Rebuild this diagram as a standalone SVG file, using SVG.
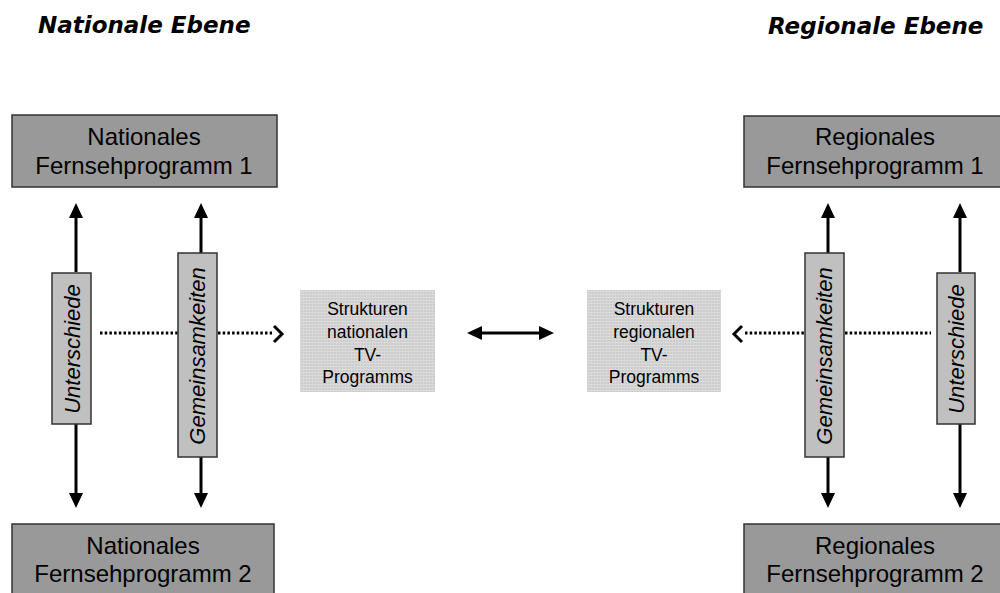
<svg xmlns="http://www.w3.org/2000/svg" width="1000" height="593" viewBox="0 0 1000 593">
<style>
.big{fill:#999999;stroke:#333333;stroke-width:1.5}
.bar{fill:#c0c0c0;stroke:#333333;stroke-width:1.5}
.str{fill:url(#grid);stroke:none}
.t24{font-family:"Liberation Sans",Arial,sans-serif;font-size:24px;fill:#000;text-anchor:middle}
.t17{font-family:"Liberation Sans",Arial,sans-serif;font-size:17.5px;fill:#000;text-anchor:middle}
.rot{font-family:"Liberation Sans",Arial,sans-serif;font-size:22px;font-style:italic;fill:#000;text-anchor:middle}
.title{font-family:"DejaVu Sans",sans-serif;font-size:23px;font-weight:bold;font-style:italic;fill:#000}
.ln{stroke:#000;stroke-width:3;fill:none}
.dot{stroke:#000;stroke-width:3;fill:none;stroke-dasharray:2.5 2.2}
.chev{stroke:#000;stroke-width:3;fill:none;stroke-linejoin:miter}
</style>
<defs>
<pattern id="grid" width="3" height="3" patternUnits="userSpaceOnUse">
<rect width="3" height="3" fill="#cccccc"/>
<rect width="3" height="1" fill="#dddddd"/>
<rect width="1" height="3" fill="#d8d8d8"/>
</pattern>
<marker id="ah" markerUnits="userSpaceOnUse" markerWidth="15" markerHeight="14" refX="0" refY="7" orient="auto-start-reverse" viewBox="0 0 15 14">
<path d="M0,0 L15,7 L0,14 Z" fill="#000"/>
</marker>
</defs>

<text class="title" x="38" y="33">Nationale Ebene</text>
<text class="title" x="768" y="34">Regionale Ebene</text>

<g id="connectors">
<line class="ln" x1="76" y1="272" x2="76" y2="218" marker-end="url(#ah)"/>
<line class="ln" x1="201" y1="253" x2="201" y2="218" marker-end="url(#ah)"/>
<line class="ln" x1="76" y1="424" x2="76" y2="493" marker-end="url(#ah)"/>
<line class="ln" x1="201" y1="457" x2="201" y2="493" marker-end="url(#ah)"/>
<line class="ln" x1="828" y1="253" x2="828" y2="218" marker-end="url(#ah)"/>
<line class="ln" x1="960" y1="272" x2="960" y2="218" marker-end="url(#ah)"/>
<line class="ln" x1="828" y1="457" x2="828" y2="493" marker-end="url(#ah)"/>
<line class="ln" x1="960" y1="424" x2="960" y2="493" marker-end="url(#ah)"/>
<line class="dot" x1="100" y1="333" x2="178" y2="333"/>
<line class="dot" x1="218" y1="333" x2="272" y2="333"/>
<polyline class="chev" points="274,326 282,334 274,342"/>
<line class="dot" x1="745" y1="333" x2="805" y2="333"/>
<line class="dot" x1="845" y1="333" x2="931" y2="333"/>
<polyline class="chev" points="742,326 734,334 742,342"/>
<line class="ln" x1="482" y1="333" x2="539" y2="333" marker-start="url(#ah)" marker-end="url(#ah)"/>
</g>

<g id="nat1">
<rect class="big" x="12" y="115" width="265" height="72"/>
<text class="t24" x="144" y="145">Nationales</text>
<text class="t24" x="144" y="174">Fernsehprogramm 1</text>
</g>
<g id="nat2">
<rect class="big" x="12" y="524" width="262" height="80"/>
<text class="t24" x="143" y="554">Nationales</text>
<text class="t24" x="143" y="582">Fernsehprogramm 2</text>
</g>
<g id="reg1">
<rect class="big" x="744" y="116" width="270" height="71"/>
<text class="t24" x="875" y="145">Regionales</text>
<text class="t24" x="875" y="174">Fernsehprogramm 1</text>
</g>
<g id="reg2">
<rect class="big" x="744" y="524" width="270" height="80"/>
<text class="t24" x="875" y="554">Regionales</text>
<text class="t24" x="875" y="582">Fernsehprogramm 2</text>
</g>

<g id="nat-unterschiede">
<rect class="bar" x="52" y="273" width="39" height="151"/>
<text class="rot" transform="translate(80,349) rotate(-90)">Unterschiede</text>
</g>
<g id="nat-gemeinsamkeiten">
<rect class="bar" x="178" y="253" width="39" height="204"/>
<text class="rot" transform="translate(205,356) rotate(-90)">Gemeinsamkeiten</text>
</g>
<g id="reg-gemeinsamkeiten">
<rect class="bar" x="805" y="253" width="39" height="204"/>
<text class="rot" transform="translate(832,356) rotate(-90)">Gemeinsamkeiten</text>
</g>
<g id="reg-unterschiede">
<rect class="bar" x="937" y="273" width="38" height="151"/>
<text class="rot" transform="translate(964,349) rotate(-90)">Unterschiede</text>
</g>

<g id="struk-nat">
<rect class="str" x="300" y="290" width="135" height="102"/>
<text class="t17" x="367.5" y="315">Strukturen</text>
<text class="t17" x="367.5" y="338">nationalen</text>
<text class="t17" x="367.5" y="361">TV-</text>
<text class="t17" x="367.5" y="383">Programms</text>
</g>
<g id="struk-reg">
<rect class="str" x="587" y="290" width="134" height="102"/>
<text class="t17" x="654" y="315">Strukturen</text>
<text class="t17" x="654" y="338">regionalen</text>
<text class="t17" x="654" y="361">TV-</text>
<text class="t17" x="654" y="383">Programms</text>
</g>
</svg>
